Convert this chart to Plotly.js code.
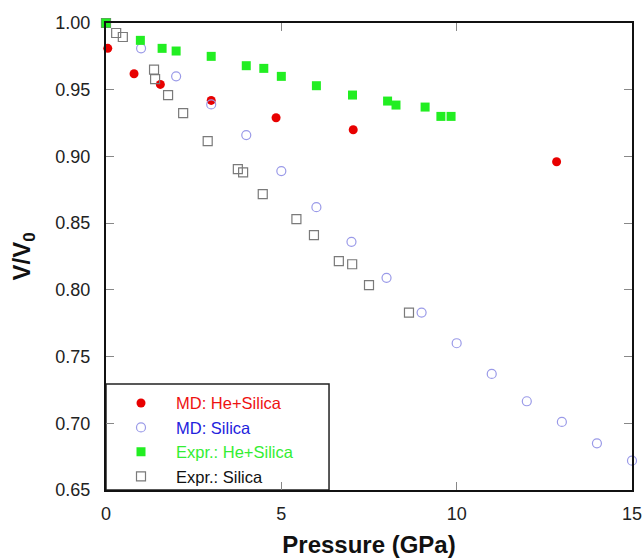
<!DOCTYPE html>
<html>
<head>
<meta charset="utf-8">
<script src="https://cdn.plot.ly/plotly-3.0.1.min.js"></script>
<style>html,body{margin:0;padding:0;background:#fff;}#chart{width:644px;height:558px;}</style>
</head>
<body>
<div id="chart"></div>
<script>
// MD: He+Silica
var mdHeX = [0.05, 0.8, 1.55, 3.0, 4.85, 7.05, 12.85];
var mdHeY = [0.981, 0.962, 0.954, 0.942, 0.929, 0.920, 0.896];
// MD: Silica
var mdSiX = [0, 1, 2, 3, 4, 5, 6, 7, 8, 9, 10, 11, 12, 13, 14, 15];
var mdSiY = [1.000, 0.981, 0.960, 0.939, 0.916, 0.889, 0.862, 0.836, 0.809, 0.783, 0.760, 0.737, 0.7165, 0.701, 0.685, 0.672];
// Expr.: He+Silica
var exHeX = [0, 0.98, 1.6, 2.0, 3.0, 4.0, 4.5, 5.0, 6.0, 7.03, 8.03, 8.27, 9.1, 9.55, 9.84];
var exHeY = [1.000, 0.987, 0.981, 0.979, 0.975, 0.968, 0.966, 0.960, 0.953, 0.946, 0.9415, 0.9385, 0.937, 0.930, 0.930];
// Expr.: Silica
var exSiX = [0, 0.29, 0.48, 1.37, 1.4, 1.77, 2.2, 2.9, 3.76, 3.91, 4.47, 5.43, 5.93, 6.64, 7.02, 7.5, 8.64];
var exSiY = [1.000, 0.9925, 0.9895, 0.965, 0.958, 0.946, 0.9325, 0.9115, 0.8905, 0.888, 0.8717, 0.853, 0.841, 0.8215, 0.8192, 0.8035, 0.783];

var names = ['MD: He+Silica', 'MD: Silica', 'Expr.: He+Silica', 'Expr.: Silica'];
var nameColors = ['#ee1111', '#2222dd', '#33ee33', '#111111'];
function label(i){ return '<span style="color:' + nameColors[i] + '">' + names[i] + '</span>'; }

var traces = [
  {x: mdHeX, y: mdHeY, name: label(0), type: 'scatter', mode: 'markers', cliponaxis: false,
   marker: {symbol: 'circle', size: 9, color: '#e80000'}, legendrank: 1},
  {x: mdSiX, y: mdSiY, name: label(1), type: 'scatter', mode: 'markers', cliponaxis: false,
   marker: {symbol: 'circle-open', size: 9, color: '#9a9ae8', line: {width: 1.2}}, legendrank: 2},
  {x: exSiX, y: exSiY, name: label(3), type: 'scatter', mode: 'markers', cliponaxis: false,
   marker: {symbol: 'square-open', size: 9, color: '#7a7a7a', line: {width: 1.2}}, legendrank: 4},
  {x: exHeX, y: exHeY, name: label(2), type: 'scatter', mode: 'markers', cliponaxis: false,
   marker: {symbol: 'square', size: 9, color: '#22ee22'}, legendrank: 3}
];

var layout = {
  width: 644, height: 558,
  margin: {l: 106, r: 12, t: 23, b: 68},
  paper_bgcolor: '#ffffff', plot_bgcolor: '#ffffff',
  font: {family: 'Arial, "Liberation Sans", sans-serif', color: '#222'},
  showlegend: true,
  legend: {x: 0, y: -0.008, xanchor: 'left', yanchor: 'bottom',
    borderwidth: 0, bgcolor: 'rgba(0,0,0,0)',
    font: {size: 16.5, family: 'Arial, "Liberation Sans", sans-serif'},
    itemwidth: 60, tracegroupgap: 0},
  shapes: [{type: 'rect', xref: 'paper', yref: 'paper', x0: 0, x1: 0.424, y0: 0, y1: 0.227,
    line: {color: '#222', width: 1.5}, fillcolor: '#ffffff', layer: 'below'}],
  xaxis: {range: [0, 15], dtick: 5, tick0: 0, showgrid: false, zeroline: false,
    showline: true, linecolor: '#111', linewidth: 2, mirror: 'ticks',
    ticks: 'inside', ticklen: 8, tickcolor: '#888', tickwidth: 1,
    tickfont: {size: 18, color: '#222'}, ticklabelstandoff: 6,
    title: {text: '<b>Pressure (GPa)</b>', font: {size: 24, color: '#111'}, standoff: 18}},
  yaxis: {range: [0.65, 1.0], dtick: 0.05, tick0: 0.65, tickformat: '.2f', showgrid: false, zeroline: false,
    showline: true, linecolor: '#111', linewidth: 2, mirror: 'ticks',
    ticks: 'inside', ticklen: 8, tickcolor: '#888', tickwidth: 1,
    tickfont: {size: 18, color: '#222'}, ticklabelstandoff: 10,
    title: {text: '<b>V/V<sub>0</sub></b>', font: {size: 24, color: '#111'}, standoff: 18}}
};

Plotly.newPlot('chart', traces, layout, {displayModeBar: false, staticPlot: true});
</script>
</body>
</html>
